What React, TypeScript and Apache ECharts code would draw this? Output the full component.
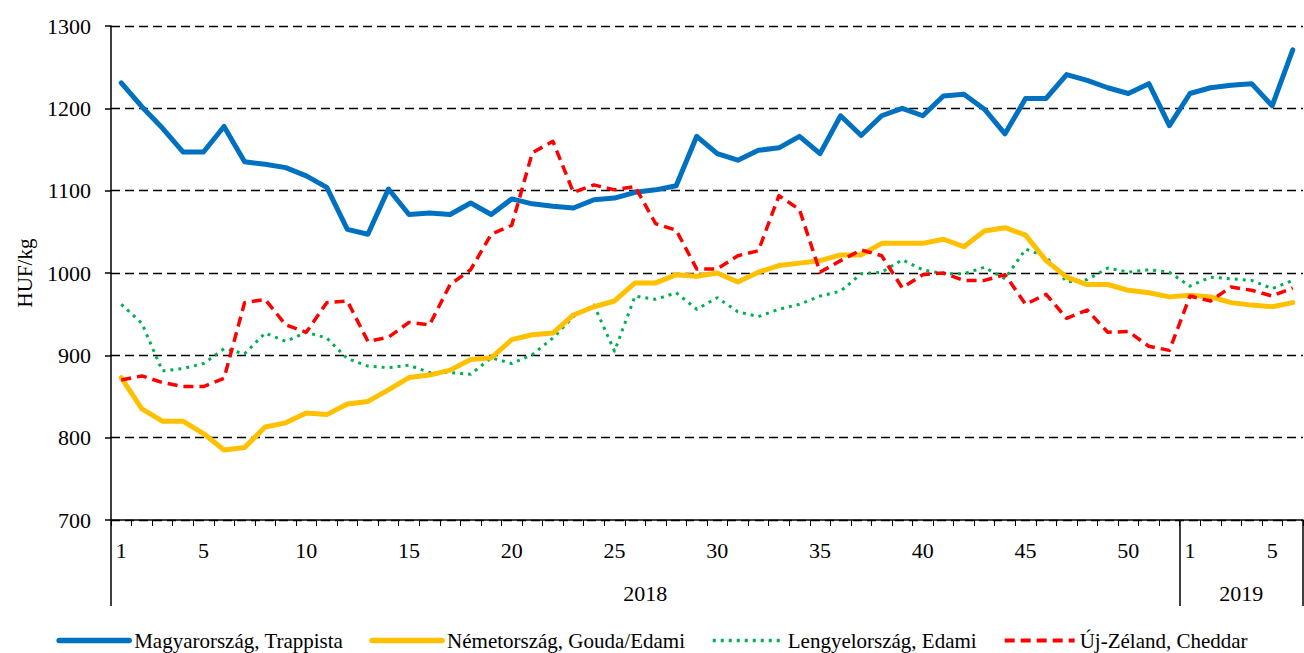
import React, { useEffect, useRef } from "react";
import * as echarts from "echarts";

const weeks2018: string[] = Array.from({ length: 52 }, (_, i) => String(i + 1));
const weeks2019: string[] = ["1", "2", "3", "4", "5", "6"];
const categories: string[] = [...weeks2018, ...weeks2019];
const yearLabels: string[] = ["2018", "2019"];

const trappistaHU: number[] = [
  1231, 1202, 1176, 1147, 1147, 1178, 1135, 1132, 1128, 1118,
  1104, 1053, 1047, 1102, 1071, 1073, 1071, 1085, 1071, 1090,
  1084, 1081, 1079, 1089, 1091, 1098, 1101, 1106, 1166, 1145,
  1137, 1149, 1152, 1166, 1145, 1191, 1167, 1191, 1200, 1191,
  1215, 1217, 1199, 1169, 1212, 1212, 1241, 1234, 1225, 1218,
  1230, 1179,
  1218, 1225, 1228, 1230, 1203, 1271,
];
const goudaDE: number[] = [
  873, 835, 820, 820, 805, 785, 788, 813, 818, 830,
  828, 841, 844, 858, 873, 876, 882, 895, 897, 919,
  925, 927, 949, 959, 966, 988, 988, 998, 996, 1000,
  989, 1001, 1009, 1012, 1015, 1022, 1022, 1036, 1036, 1036,
  1041, 1032, 1051, 1055, 1046, 1015, 995, 986, 986, 979,
  976, 971,
  973, 971, 964, 961, 959, 964,
];
const edamiPL: number[] = [
  962, 939, 881, 884, 890, 908, 902, 927, 917, 928,
  921, 896, 887, 885, 888, 879, 879, 877, 897, 890,
  901, 921, 947, 961, 905, 972, 968, 976, 956, 970,
  953, 947, 956, 962, 972, 978, 999, 1001, 1016, 1004,
  999, 999, 1007, 993, 1029, 1020, 989, 992, 1006, 1001,
  1004, 1001,
  984, 995, 993, 991, 981, 991,
];
const cheddarNZ: number[] = [
  870, 875, 867, 862, 862, 872, 964, 968, 937, 928,
  964, 966, 917, 922, 940, 937, 986, 1004, 1047, 1058,
  1146, 1160, 1098, 1107, 1101, 1105, 1060, 1052, 1005, 1005,
  1021, 1027, 1094, 1077, 1001, 1015, 1028, 1021, 982, 998,
  1000, 991, 991, 998, 962, 974, 945, 955, 928, 929,
  911, 906,
  972, 966, 983, 979, 972, 982,
];

const seriesNames: string[] = [
  "Magyarország, Trappista",
  "Németország, Gouda/Edami",
  "Lengyelország, Edami",
  "Új-Zéland, Cheddar",
];

const FONT = "'Liberation Serif', 'Times New Roman', serif";

export default function App() {
  const ref = useRef<HTMLDivElement>(null);

  useEffect(() => {
    if (!ref.current) return;
    const chart = echarts.init(ref.current, undefined, { renderer: "svg" });
    const n = categories.length;
    const showLabel = (idx: number) => {
      const w = Number(categories[idx]);
      return w === 1 || w % 5 === 0;
    };
    const styles = [
      { color: "#0070C0", width: 5, type: "solid" as any },
      { color: "#FFC000", width: 5, type: "solid" as any },
      { color: "#00B050", width: 3, type: [3, 5] as any },
      { color: "#FF0000", width: 3.5, type: [10, 6] as any },
    ];
    const datasets = [trappistaHU, goudaDE, edamiPL, cheddarNZ];
    const zs = [5, 4, 3, 6];
    chart.setOption({
      animation: false,
      backgroundColor: "#ffffff",
      textStyle: { fontFamily: FONT, color: "#000" },
      grid: { left: 111, right: 1, top: 26, bottom: 133, containLabel: false },
      legend: {
        top: 625,
        left: "center",
        itemWidth: 70,
        itemHeight: 14,
        itemGap: 26,
        itemStyle: { opacity: 0 },
        textStyle: { fontFamily: FONT, fontSize: 21, color: "#000" },
        data: seriesNames.map((name, i) => ({
          name,
          itemStyle: { opacity: 0 },
          lineStyle: {
            color: styles[i].color,
            width: styles[i].width + 0.5,
            type: styles[i].type,
            cap: i < 2 ? "round" : "butt",
          },
        })),
      },
      xAxis: [
        {
          type: "category",
          data: categories,
          boundaryGap: true,
          position: "bottom",
          axisLine: { show: true, lineStyle: { color: "#000", width: 1.5 } },
          axisTick: { show: true, interval: 0, length: 6, lineStyle: { color: "#000", width: 1 } },
          axisLabel: {
            interval: (idx: number) => showLabel(idx),
            margin: 19,
            fontSize: 22,
            fontFamily: FONT,
            color: "#000",
          },
          splitLine: { show: false },
        },
        {
          type: "value",
          min: 0,
          max: n,
          position: "bottom",
          offset: 0,
          axisLine: { show: false },
          splitLine: { show: false },
          axisTick: {
            show: true,
            length: 86,
            customValues: [0, weeks2018.length, n],
            lineStyle: { color: "#000", width: 1.5 },
          },
          axisLabel: {
            customValues: [weeks2018.length / 2, weeks2018.length + weeks2019.length / 2],
            formatter: (v: number) => (v < weeks2018.length ? yearLabels[0] : yearLabels[1]),
            margin: 62,
            fontSize: 22,
            fontFamily: FONT,
            color: "#000",
          },
        },
      ],
      yAxis: {
        type: "value",
        min: 700,
        max: 1300,
        interval: 100,
        name: "HUF/kg",
        nameLocation: "middle",
        nameRotate: 90,
        nameGap: 76,
        nameTextStyle: { fontFamily: FONT, fontSize: 21, color: "#000" },
        axisLine: { show: true, lineStyle: { color: "#000", width: 1.5 } },
        axisTick: { show: true, length: 6, lineStyle: { color: "#000", width: 1.5 } },
        axisLabel: {
          margin: 20,
          fontSize: 22,
          fontFamily: FONT,
          color: "#000",
          formatter: (v: number) => String(v),
        },
        splitLine: { show: true, lineStyle: { color: "#000", width: 1.4, type: [9, 5] } },
      },
      series: seriesNames.map((name, i) => ({
        name,
        type: "line",
        data: datasets[i],
        symbol: "none",
        showSymbol: false,
        lineStyle: {
          color: styles[i].color,
          width: styles[i].width,
          type: styles[i].type,
          join: "round",
          cap: i < 2 ? "round" : "butt",
        },
        itemStyle: { color: styles[i].color },
        z: zs[i],
      })),
    });
    return () => chart.dispose();
  }, []);

  return (
    <div
      ref={ref}
      style={{ position: "fixed", left: 0, top: 0, width: 1304, height: 653, background: "#fff" }}
    />
  );
}
